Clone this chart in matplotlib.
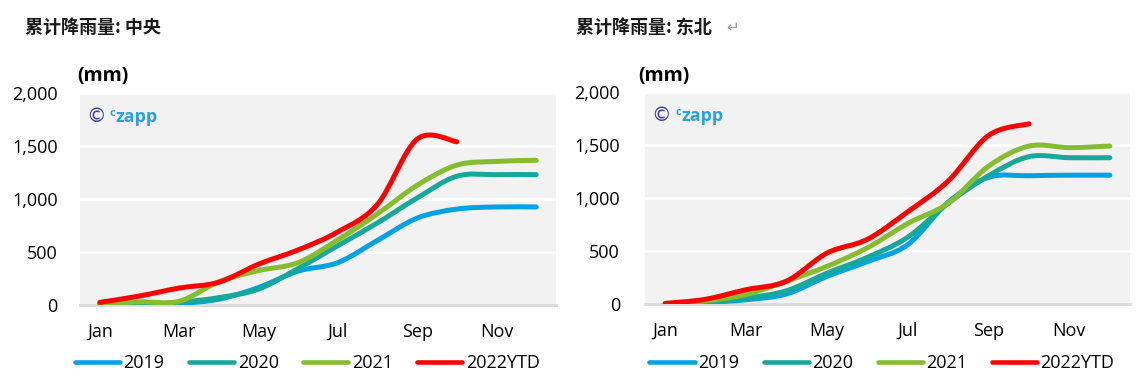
import numpy as np
import matplotlib
matplotlib.use("Agg")
import matplotlib.pyplot as plt
from matplotlib.path import Path
from matplotlib.patches import PathPatch
from matplotlib.lines import Line2D
from matplotlib.ticker import FuncFormatter

plt.rcParams['font.family'] = ['Open Sans', 'DejaVu Sans']

# Months and data (cumulative rainfall, mm)
months = ["Jan", "Feb", "Mar", "Apr", "May", "Jun", "Jul", "Aug", "Sep", "Oct", "Nov", "Dec"]
series_names = ["2019", "2020", "2021", "2022YTD"]
colors = ["#00a2e6", "#17a89c", "#84bd2e", "#ff0000"]

central_2019 = [5, 5, 15, 55, 165, 320, 400, 610, 820, 905, 925, 925]
central_2020 = [5, 5, 25, 70, 150, 345, 560, 775, 1010, 1215, 1230, 1230]
central_2021 = [10, 30, 35, 220, 325, 400, 615, 860, 1130, 1320, 1355, 1365]
central_2022 = [25, 85, 160, 215, 385, 520, 690, 950, 1565, 1540]

ne_2019 = [0, 15, 40, 95, 260, 400, 560, 960, 1195, 1210, 1215, 1215]
ne_2020 = [0, 15, 55, 125, 290, 440, 630, 950, 1210, 1390, 1380, 1380]
ne_2021 = [5, 30, 90, 215, 355, 530, 760, 950, 1300, 1490, 1475, 1490]
ne_2022 = [5, 45, 135, 215, 480, 610, 870, 1160, 1590, 1700]


def smooth_line(ax, values, color):
    # Excel style smoothed line (Catmull-Rom bezier)
    x = np.arange(len(values), dtype=float)
    pts = np.column_stack([x, np.array(values, dtype=float)])
    n = len(pts)
    verts = [pts[0]]
    codes = [Path.MOVETO]
    for i in range(n - 1):
        p0 = pts[i - 1] if i > 0 else pts[i]
        p1 = pts[i]
        p2 = pts[i + 1]
        p3 = pts[i + 2] if i + 2 < n else pts[i + 1]
        verts += [p1 + (p2 - p0) / 6, p2 - (p3 - p1) / 6, p2]
        codes += [Path.CURVE4] * 3
    patch = PathPatch(Path(verts, codes), fill=False, edgecolor=color, lw=3.6,
                      capstyle='round', joinstyle='round', zorder=3)
    ax.add_patch(patch)


def setup(ax, data, ypad, title, title_x, mm_x, legend_x):
    ax.set_facecolor("#f2f2f2")
    for vals, c in zip(data, colors):
        smooth_line(ax, vals, c)
    ax.set_xlim(-0.5, 11.5)
    ax.set_ylim(0, 2000)
    ax.set_yticks([0, 500, 1000, 1500, 2000])
    ax.yaxis.set_major_formatter(FuncFormatter(lambda v, p: f"{int(v):,}"))
    ax.set_xticks(range(0, 12, 2))
    ax.set_xticklabels(months[::2])
    ax.grid(axis='y', color='white', lw=2)
    ax.set_axisbelow(True)
    for s in ["top", "right", "left"]:
        ax.spines[s].set_visible(False)
    ax.spines["bottom"].set_color("#d9d9d9")
    ax.spines["bottom"].set_linewidth(2)
    ax.tick_params(axis='y', length=0, pad=ypad, labelsize=13)
    ax.tick_params(axis='x', length=0, pad=13, labelsize=13)

    fig.text(title_x, 0.93, title, fontsize=13, fontweight='bold', va='center',
             family=['Noto Sans CJK SC', 'DejaVu Sans'], color='#1a1a1a')
    fig.text(mm_x, 0.805, "(mm)", fontsize=14, fontweight='bold', va='center')

    ax.text(0.013, 0.888, "©", transform=ax.transAxes, fontsize=14, color="#3c3c96",
            va='center', family='DejaVu Sans')
    ax.text(0.063, 0.905, "c", transform=ax.transAxes, fontsize=8, color="#29a3e0",
            va='center', fontweight='bold')
    ax.text(0.075, 0.885, "zapp", transform=ax.transAxes, fontsize=13, color="#29a3e0",
            va='center', fontweight='bold')

    handles = [Line2D([], [], color=c, lw=3.3, solid_capstyle='round') for c in colors]
    ax.legend(handles, series_names, loc='center', bbox_to_anchor=(legend_x, 0.067),
              bbox_transform=fig.transFigure, ncol=4, frameon=False, fontsize=13,
              handlelength=2.5, handletextpad=0.2, columnspacing=1.35)


fig = plt.figure(figsize=(11.38, 3.89), dpi=100)
ax1 = fig.add_axes([0.0703, 0.2159, 0.4183, 0.545])
ax2 = fig.add_axes([0.5668, 0.2185, 0.4262, 0.545])

setup(ax1, [central_2019, central_2020, central_2021, central_2022], 16,
      "累计降雨量: 中央", 0.022, 0.068, 0.270)
setup(ax2, [ne_2019, ne_2020, ne_2021, ne_2022], 18,
      "累计降雨量: 东北", 0.506, 0.561, 0.775)
fig.text(0.638, 0.93, "↵", fontsize=11, color="#9a9a9a", va='center',
         family=['DejaVu Sans'])

fig.savefig("out.png", dpi=100)
